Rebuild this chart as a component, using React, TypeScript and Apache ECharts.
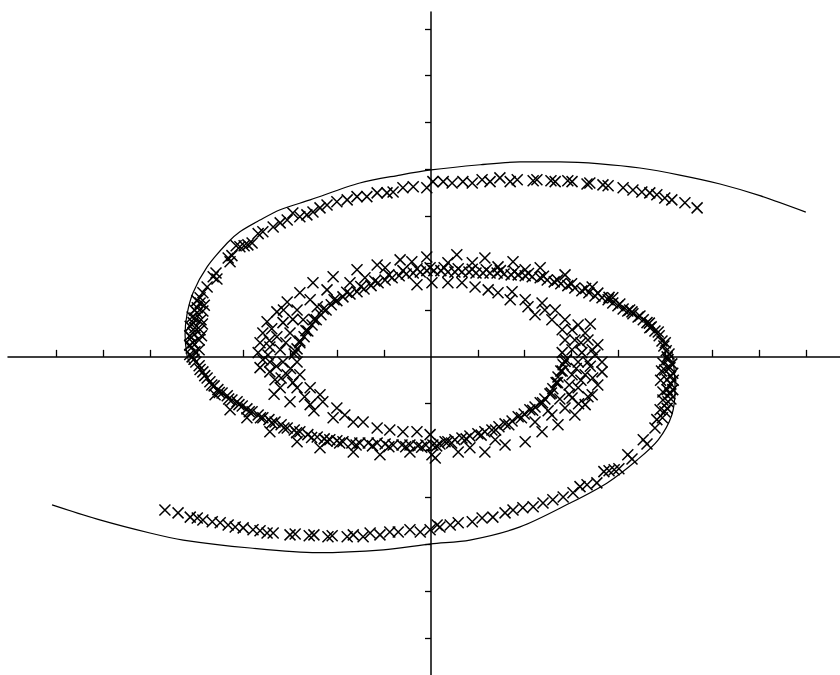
import React, { useEffect, useRef } from "react";
import * as echarts from "echarts";

// Tick positions (axis units)
const xTicks = [-8, -7, -6, -5, -4, -3, -2, -1, 1, 2, 3, 4, 5, 6, 7, 8];
const yTicks = [-6, -5, -4, -3, -2, -1, 1, 2, 3, 4, 5, 6, 7];

// Solid theoretical curves
const curveTop = [
  [8.0, 3.09], [7.02, 3.44], [6.17, 3.69], [5.31, 3.88], [4.46, 4.03], [3.61, 4.12],
  [2.75, 4.16], [1.9, 4.16], [1.05, 4.1], [0, 3.99], [-0.66, 3.88], [-1.52, 3.71],
  [-2.58, 3.35], [-3.22, 3.14], [-3.65, 2.92], [-4.08, 2.67], [-4.35, 2.43],
  [-4.78, 1.92], [-5.08, 1.37], [-5.21, 0.9], [-5.25, 0.47], [-5.21, 0.04], [-5.14, -0.17],
];
const curveBottom = [
  [-8.09, -3.16], [-7.07, -3.48], [-6.0, -3.76], [-5.29, -3.91], [-3.86, -4.08],
  [-2.43, -4.18], [-1.02, -4.12], [0, -3.99], [0.83, -3.91], [1.9, -3.63], [2.97, -3.12],
  [3.76, -2.69], [4.4, -2.2], [4.85, -1.77], [5.14, -1.24], [5.21, -0.66], [5.19, -0.28], [5.14, 0.11],
];

// Crosses: outer upper arm
const outerArmTop = [
  [5.68, 3.18], [5.42, 3.29], [5.14, 3.35], [4.99, 3.39], [4.82, 3.46], [4.67, 3.5], [4.5, 3.52],
  [4.31, 3.56], [4.1, 3.61], [3.78, 3.65], [3.67, 3.67], [3.39, 3.71], [3.33, 3.69], [3.01, 3.74],
  [2.92, 3.76], [2.65, 3.74], [2.56, 3.76], [2.26, 3.78], [2.18, 3.76], [1.84, 3.78], [1.69, 3.74],
  [1.47, 3.82], [1.26, 3.74], [1.09, 3.78], [0.88, 3.71], [0.68, 3.74], [0.45, 3.71], [0.26, 3.74],
  [0.04, 3.74], [-0.09, 3.61], [-0.38, 3.63], [-0.6, 3.61], [-0.81, 3.52], [-0.94, 3.5],
  [-1.15, 3.5], [-1.37, 3.42], [-1.58, 3.42], [-1.79, 3.35], [-2.01, 3.31], [-2.22, 3.24],
  [-2.37, 3.18], [-2.52, 3.09], [-2.65, 3.03], [-2.8, 2.99], [-2.95, 3.07], [-3.07, 2.92],
  [-3.22, 2.86], [-3.37, 2.77], [-3.59, 2.67], [-3.69, 2.63], [-3.82, 2.43], [-3.91, 2.39],
  [-3.99, 2.37], [-4.08, 2.35], [-4.16, 2.37], [-4.25, 2.16], [-4.33, 2.11], [-4.29, 2.03],
  [-4.59, 1.79], [-4.65, 1.71], [-4.57, 1.66], [-4.78, 1.49], [-4.87, 1.37], [-4.93, 1.26],
  [-4.93, 1.15], [-4.99, 1.05], [-4.99, 0.94], [-5.04, 0.83], [-5.08, 0.73], [-5.04, 0.62],
  [-5.08, 0.51], [-5.12, 0.41], [-5.08, 0.3], [-5.12, 0.19], [-5.04, 0.11],
  [-4.87, 0.98], [-4.91, 0.79], [-4.93, 0.58], [-4.95, 0.36], [-4.95, 0.15],
  [-5.0, 1.2], [-5.05, 1.0], [-5.1, 0.85], [-5.14, 0.65], [-5.15, 0.45], [-5.15, 0.25],
  [-5.15, 0.05], [-4.9, 0.45], [-4.88, 0.7], [-4.84, 1.1],
];

// Crosses: dense lower band (continuation of the upper arm)
const innerBandLower = [
  [-5.1, 0], [-5.02, -0.11], [-4.95, -0.19], [-4.87, -0.32], [-4.78, -0.45], [-4.72, -0.53],
  [-4.63, -0.62], [-4.55, -0.7], [-4.46, -0.77], [-4.35, -0.83], [-4.25, -0.92], [-4.14, -0.96],
  [-4.03, -1.05], [-3.93, -1.11], [-3.82, -1.17], [-3.69, -1.24], [-3.59, -1.3], [-3.46, -1.34],
  [-3.33, -1.39], [-3.2, -1.45], [-3.07, -1.52], [-2.92, -1.56], [-2.8, -1.6], [-2.63, -1.66],
  [-2.43, -1.71], [-2.28, -1.75], [-2.16, -1.77], [-2.01, -1.79], [-1.88, -1.81], [-1.69, -1.84],
  [-1.52, -1.84], [-1.34, -1.84], [-1.15, -1.84], [-0.98, -1.86], [-0.81, -1.88], [-0.62, -1.88],
  [-0.45, -1.88], [-0.28, -1.9], [-0.11, -1.88], [0.04, -1.88], [0.19, -1.86], [0.36, -1.81],
  [0.51, -1.77], [0.66, -1.73], [0.83, -1.69], [1.0, -1.64], [1.15, -1.6], [1.3, -1.56],
  [1.45, -1.49], [1.58, -1.43], [1.73, -1.37], [1.86, -1.28], [1.99, -1.22], [2.11, -1.13],
  [2.22, -1.07], [2.33, -0.98], [2.43, -0.9], [2.54, -0.79], [2.6, -0.68], [2.67, -0.55],
  [2.71, -0.43], [2.77, -0.3], [2.82, -0.17], [2.88, -0.06],
];
const innerBandLowerExtra = [
  [-5.06, -0.05], [-4.93, -0.27], [-4.83, -0.4], [-4.68, -0.6], [-4.52, -0.76], [-4.32, -0.9],
  [-4.1, -1.02], [-3.88, -1.17], [-3.64, -1.3], [-3.4, -1.41], [-3.14, -1.52], [-2.87, -1.62],
  [-2.55, -1.72], [-2.22, -1.8], [-1.95, -1.84], [-1.6, -1.88], [-1.25, -1.9], [-0.9, -1.92],
  [-0.54, -1.92], [-0.2, -1.93], [0.12, -1.9], [0.44, -1.84], [0.75, -1.75], [1.07, -1.67],
  [1.38, -1.56], [1.66, -1.45], [1.93, -1.3], [2.17, -1.14], [2.38, -0.98], [2.57, -0.77],
  [2.7, -0.55], [2.8, -0.3], [2.86, -0.1],
];

// Crosses: outer lower arm
const outerArmBottom = [
  [-5.68, -3.27], [-5.4, -3.33], [-5.14, -3.42], [-4.99, -3.44], [-4.87, -3.48], [-4.67, -3.52],
  [-4.5, -3.54], [-4.33, -3.59], [-4.18, -3.63], [-4.01, -3.65], [-3.8, -3.69], [-3.65, -3.71],
  [-3.5, -3.76], [-3.37, -3.76], [-3.01, -3.8], [-2.9, -3.78], [-2.6, -3.82], [-2.5, -3.8],
  [-2.2, -3.84], [-2.11, -3.82], [-1.79, -3.84], [-1.66, -3.8], [-1.45, -3.84], [-1.3, -3.76],
  [-1.09, -3.8], [-0.88, -3.74], [-0.7, -3.74], [-0.45, -3.69], [-0.23, -3.74], [-0.02, -3.69],
  [0.13, -3.59], [0.19, -3.63], [0.41, -3.59], [0.58, -3.54], [0.88, -3.52], [1.09, -3.44],
  [1.32, -3.42], [1.58, -3.33], [1.75, -3.27], [1.96, -3.22], [2.18, -3.2], [2.39, -3.12],
  [2.6, -3.05], [2.82, -2.99], [3.03, -2.9], [3.18, -2.77], [3.33, -2.73], [3.54, -2.69],
  [3.69, -2.45], [3.8, -2.43], [3.91, -2.41], [4.01, -2.39], [4.2, -2.09], [4.29, -2.18],
  [4.53, -1.77], [4.61, -1.86], [4.78, -1.52], [4.82, -1.34], [4.89, -1.13], [4.95, -0.92],
  [5.04, -0.7], [5.04, -0.49], [4.99, -0.28], [4.95, -0.13],
  [5.06, -0.06], [5.1, -0.23], [5.12, -0.41], [5.12, -0.58], [5.1, -0.79], [5.06, -0.96], [4.99, -1.17],
  [5.14, -0.15], [5.16, -0.35], [5.17, -0.5], [5.16, -0.7], [5.12, -0.9], [5.04, -1.1],
  [4.94, -1.3], [4.9, -0.5], [4.92, -0.3], [4.95, -0.75],
];

// Crosses: dense upper band (continuation of the lower arm)
const innerBandUpper = [
  [5.04, 0], [5.02, 0.13], [4.97, 0.23], [4.93, 0.34], [4.87, 0.45], [4.78, 0.55], [4.7, 0.64],
  [4.61, 0.73], [4.53, 0.79], [4.42, 0.85], [4.31, 0.92], [4.2, 0.98], [4.1, 1.02], [3.99, 1.09],
  [3.88, 1.15], [3.78, 1.22], [3.65, 1.26], [3.5, 1.3], [3.37, 1.37], [3.22, 1.41], [3.07, 1.47],
  [2.92, 1.52], [2.77, 1.56], [2.63, 1.6], [2.48, 1.64], [2.33, 1.69], [2.16, 1.71], [2.01, 1.73],
  [1.86, 1.75], [1.71, 1.75], [1.56, 1.77], [1.41, 1.79], [1.26, 1.79], [1.11, 1.79], [0.96, 1.79],
  [0.81, 1.81], [0.66, 1.81], [0.51, 1.81], [0.36, 1.81], [0.21, 1.84], [0.06, 1.84], [-0.09, 1.84],
  [-0.23, 1.81], [-0.38, 1.79], [-0.53, 1.77], [-0.68, 1.73], [-0.83, 1.69], [-0.98, 1.64],
  [-1.13, 1.58], [-1.28, 1.52], [-1.43, 1.45], [-1.58, 1.39], [-1.73, 1.34], [-1.88, 1.28],
  [-2.01, 1.2], [-2.13, 1.11], [-2.24, 1.0], [-2.35, 0.9], [-2.45, 0.79], [-2.54, 0.68],
  [-2.63, 0.55], [-2.71, 0.43], [-2.8, 0.3], [-2.86, 0.17], [-2.92, 0.06],
];
const innerBandUpperExtra = [
  [5.08, 0.06], [5.0, 0.3], [4.85, 0.53], [4.66, 0.72], [4.46, 0.87], [4.24, 1.0], [4.03, 1.13],
  [3.8, 1.27], [3.56, 1.36], [3.3, 1.46], [3.0, 1.56], [2.7, 1.64], [2.4, 1.72], [2.08, 1.78],
  [1.78, 1.82], [1.48, 1.84], [1.18, 1.86], [0.88, 1.87], [0.58, 1.88], [0.28, 1.9], [-0.02, 1.9],
  [-0.3, 1.88], [-0.6, 1.84], [-0.9, 1.75], [-1.2, 1.62], [-1.5, 1.5], [-1.8, 1.38], [-2.07, 1.22],
  [-2.3, 1.02], [-2.5, 0.8], [-2.67, 0.56], [-2.8, 0.34], [-2.9, 0.12],
];

// Crosses: sparse scatter, upper half
const sparseUpper = [
  [-0.09, 2.13], [-0.66, 2.07], [-1.15, 1.96], [-1.58, 1.86], [-2.09, 1.71], [-2.52, 1.58],
  [-2.8, 1.37], [-3.07, 1.17], [-3.29, 0.96], [-3.5, 0.75], [-3.59, 0.51], [-3.65, 0.3],
  [-3.69, 0.09], [-1.73, 1.58], [-2.22, 1.43], [-2.58, 1.22], [-2.86, 1.0], [-3.16, 0.73],
  [-3.29, 0.43], [-3.44, 0.21], [-3.22, 0.15], [-3.01, 0.51], [-2.73, 0.79], [-2.43, 1.07],
  [-0.98, 1.9], [-0.41, 2.03], [-1.41, 1.69], [-3.48, 0.04], [-0.3, 1.54],
  [-3.4, 0.6], [-3.1, 0.3], [-3.45, 0.35], [-3.15, 1.0], [-2.95, 0.8],
  [0.55, 2.18], [1.15, 2.11], [1.75, 2.03], [2.33, 1.9], [2.86, 1.75], [3.44, 1.49], [3.88, 1.26],
  [4.29, 0.96], [4.67, 0.62], [0.36, 2.01], [0.88, 2.01], [1.43, 1.92], [2.01, 1.86],
  [0.02, 1.58], [0.36, 1.58], [0.66, 1.58], [0.94, 1.49], [1.22, 1.43], [1.43, 1.37], [1.73, 1.39],
  [2.01, 1.22], [2.07, 1.07], [2.37, 1.15], [2.43, 1.0], [2.65, 1.0], [2.58, 0.79], [2.86, 0.79],
  [2.8, 0.58], [3.01, 0.58], [3.07, 0.36], [3.29, 0.51], [3.35, 0.36], [2.86, 0.36], [3.01, 0.15],
  [3.44, 0.15], [2.8, 0.09], [3.22, 0.09], [3.56, 0.26], [3.5, 0.04], [3.14, 0.68], [2.22, 0.9],
  [1.69, 1.22], [3.4, 0.7], [3.2, 0.3],
];

// Crosses: sparse scatter, lower half
const sparseLower = [
  [-3.59, -0.06], [-3.44, -0.32], [-3.22, -0.66], [-3.01, -0.96], [-3.44, -0.11], [-3.16, -0.11],
  [-2.86, -0.11], [-3.07, -0.38], [-2.8, -0.38], [-2.86, -0.66], [-2.58, -0.66], [-2.58, -1.02],
  [-2.31, -0.96], [-2.09, -1.3], [-2.01, -1.09], [-1.66, -1.39], [-1.45, -1.39], [-1.15, -1.52],
  [-0.88, -1.56], [-0.6, -1.6], [-0.3, -1.6], [-0.02, -1.66], [-3.65, -0.23], [-3.33, -0.49],
  [-2.37, -0.81], [-1.84, -1.24],
  [-3.3, -0.2], [-3.0, -0.25], [-3.2, -0.45], [-2.95, -0.55], [-3.35, -0.8], [-2.7, -0.85],
  [-2.5, -1.15],
  [-3.93, -1.3], [-3.44, -1.6], [-2.86, -1.81], [-2.37, -1.94], [-1.66, -2.03], [-1.09, -2.09],
  [-0.45, -2.03], [-4.61, -0.81], [-4.29, -1.13],
  [0.3, -1.81], [0.09, -2.16], [0.58, -2.03], [1.15, -2.03], [1.58, -1.88], [2.01, -1.81],
  [2.37, -1.6], [2.71, -1.45], [3.07, -1.24], [3.29, -1.02], [3.44, -0.81], [3.56, -0.6],
  [3.65, -0.32], [3.65, -0.11], [3.01, -0.88], [3.14, -0.66], [3.29, -0.38], [3.35, -0.11],
  [2.86, -1.09], [2.58, -1.24], [2.22, -1.39], [3.14, -0.11], [3.01, -0.38], [0.02, -2.09],
  [0.83, -1.94], [1.37, -1.77],
  [3.4, -0.2], [3.1, -0.25], [3.2, -0.5], [2.95, -0.6], [3.35, -0.85], [2.75, -0.9],
  [2.5, -1.15], [3.45, -0.45], [3.15, -1.0], [2.95, -0.8],
];

const crossSymbol = "path://M0,0L10,10M0,10L10,0";

function crossSeries(data: number[][]) {
  return {
    type: "scatter",
    data,
    symbol: crossSymbol,
    symbolSize: 11,
    itemStyle: { color: "rgba(0,0,0,0)", borderColor: "#000", borderWidth: 1.5, opacity: 1 },
    silent: true,
    z: 3,
  };
}

function curveSeries(data: number[][]) {
  return {
    type: "line",
    data,
    smooth: 0.3,
    showSymbol: false,
    symbol: "none",
    lineStyle: { color: "#000", width: 1.2 },
    silent: true,
    z: 2,
  };
}

export default function App() {
  const ref = useRef<HTMLDivElement>(null);
  useEffect(() => {
    if (!ref.current) return;
    const chart = echarts.init(ref.current, null, { renderer: "svg" });
    chart.setOption({
      animation: false,
      backgroundColor: "#ffffff",
      grid: { left: 8, right: 0, top: 12, bottom: 0, containLabel: false },
      xAxis: {
        type: "value",
        min: -9.03,
        max: 8.73,
        axisLine: { onZero: true, lineStyle: { color: "#000", width: 1.5 } },
        axisTick: { show: true, inside: true, length: 7, customValues: xTicks, lineStyle: { color: "#000", width: 1.3 } },
        axisLabel: { show: false },
        splitLine: { show: false },
      },
      yAxis: {
        type: "value",
        min: -6.79,
        max: 7.36,
        axisLine: { onZero: true, lineStyle: { color: "#000", width: 1.5 } },
        axisTick: { show: true, inside: false, length: 6, customValues: yTicks, lineStyle: { color: "#000", width: 1.3 } },
        axisLabel: { show: false },
        splitLine: { show: false },
      },
      series: [
        curveSeries(curveTop),
        curveSeries(curveBottom),
        crossSeries(outerArmTop),
        crossSeries(innerBandLower),
        crossSeries(innerBandLowerExtra),
        crossSeries(outerArmBottom),
        crossSeries(innerBandUpper),
        crossSeries(innerBandUpperExtra),
        crossSeries(sparseUpper),
        crossSeries(sparseLower),
      ],
    });
    return () => chart.dispose();
  }, []);
  return (
    <div
      ref={ref}
      style={{ position: "fixed", left: 0, top: 0, width: 840, height: 675, background: "#fff" }}
    />
  );
}
